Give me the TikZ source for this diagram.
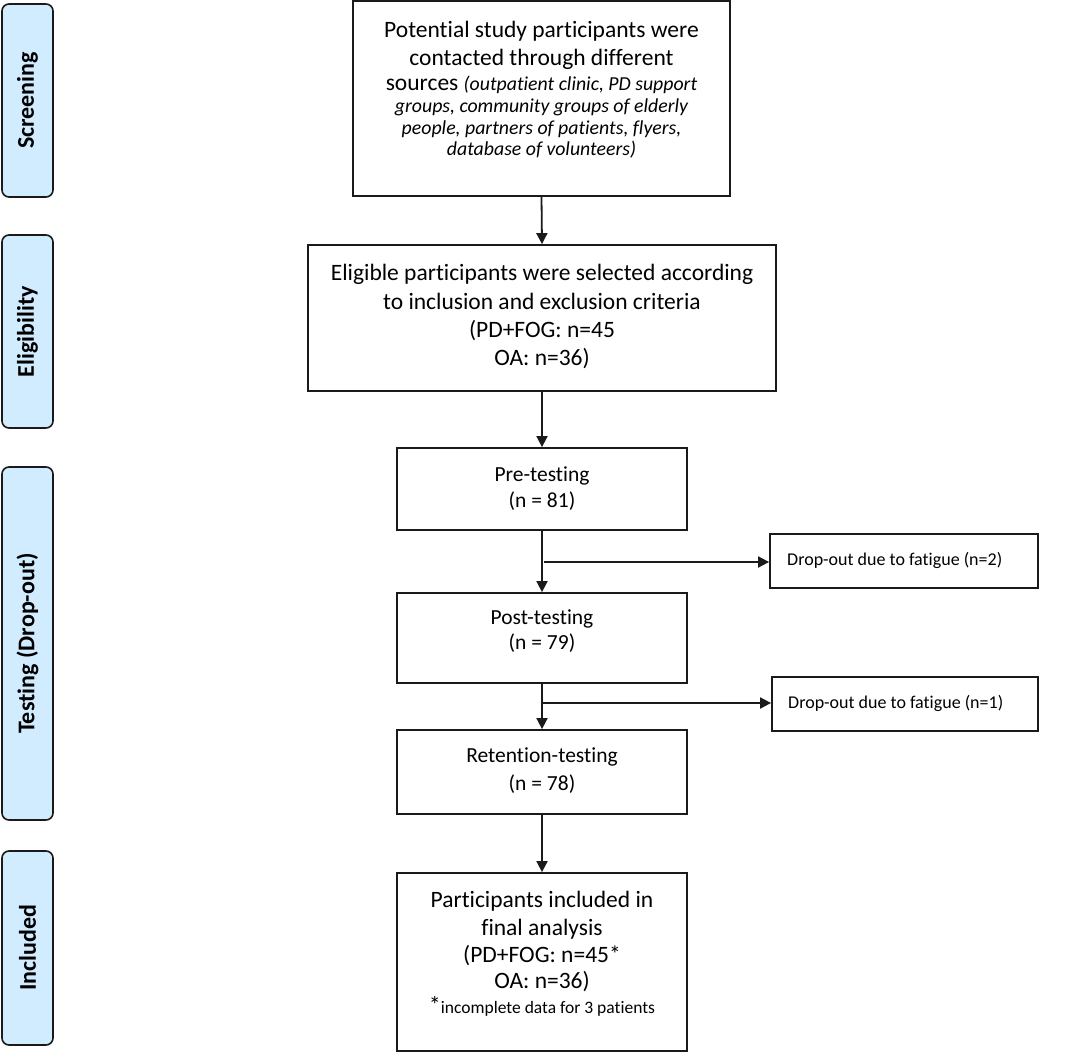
\documentclass[tikz,border=0pt]{standalone}
\usepackage{fontspec}
\setmainfont{Carlito}[Ligatures={NoCommon,NoContextual},RawFeature={-liga;-clig;-dlig;-calt}]
\usetikzlibrary{arrows.meta}
\definecolor{sidefill}{HTML}{D2ECFF}
\definecolor{edge}{HTML}{1A1A1A}
\begin{document}
\begin{tikzpicture}[x=1pt,y=-1pt,
  box/.style={draw=edge, line width=1.8pt, inner sep=0pt},
  side/.style={draw=edge, line width=1.6pt, fill=sidefill, rounded corners=7pt,
    rotate=90, inner sep=0pt, font=\fontsize{24}{28}\selectfont\bfseries},
  ln/.style={inner sep=0pt, text height=0.7em, text depth=0.22em, anchor=center},
  big/.style={ln, font=\fontsize{23.5}{28}\selectfont},
  mid/.style={ln, font=\fontsize{21.5}{26}\selectfont},
  ital/.style={ln, font=\fontsize{19.8}{24}\selectfont\itshape},
  drop/.style={inner sep=0pt, text height=0.7em, text depth=0.22em, anchor=west,
    font=\fontsize{18}{22}\selectfont},
  arr/.style={line width=1.8pt, draw=edge, -{Triangle[width=11pt,length=11pt]}}
]
\useasboundingbox (0,0) rectangle (1084,1054);

% side labels
\node[side, minimum width=193, minimum height=51] (sScreen) at (27.5,100.5) {Screening};
\node[side, minimum width=193, minimum height=51] (sElig) at (27.5,331.5) {Eligibility};
\node[side, minimum width=353, minimum height=51] (sTest) at (27.5,643.5) {Testing (Drop-out)};
\node[side, minimum width=194, minimum height=51] (sIncl) at (27.5,948) {Included};

% main boxes
\node[box, minimum width=377, minimum height=195] (top) at (541.5,98.5) {};
\node[box, minimum width=468, minimum height=146] (elig) at (542,318) {};
\node[box, minimum width=290, minimum height=82] (pre) at (542,489) {};
\node[box, minimum width=290, minimum height=90] (post) at (542,638) {};
\node[box, minimum width=290, minimum height=84] (ret) at (542,772) {};
\node[box, minimum width=290, minimum height=178] (final) at (542,962) {};
\node[box, minimum width=268, minimum height=54] (drop1) at (904,561) {};
\node[box, minimum width=266, minimum height=54] (drop2) at (905,704) {};

% texts: top box
\node[big] (t1) at (541.5,35) {Potential study participants were};
\node[big] (t2) at (541.5,63) {contacted through different};
\node[big] (t3) at (541.5,88) {sources {\fontsize{19.8}{24}\selectfont\itshape (outpatient clinic, PD support}};
\node[ital] (t4) at (541.5,110) {groups, community groups of elderly};
\node[ital] (t5) at (541.5,132) {people, partners of patients, flyers,};
\node[ital] (t6) at (541.5,153) {database of volunteers)};

% eligibility
\node[big] (e1) at (542,278) {Eligible participants were selected according};
\node[big] (e2) at (542,307) {to inclusion and exclusion criteria};
\node[big] (e3) at (542,335) {(PD+FOG: n=45};
\node[big] (e4) at (542,363) {OA: n=36)};

% testing
\node[mid] (p1) at (542,479) {Pre-testing};
\node[mid] (p2) at (542,505) {(n = 81)};
\node[mid] (q1) at (542,622) {Post-testing};
\node[mid] (q2) at (542,647) {(n = 79)};
\node[mid] (r1) at (542,760) {Retention-testing};
\node[mid] (r2) at (542,788) {(n = 78)};

% final
\node[big] (f1) at (542,905) {Participants included in};
\node[big] (f2) at (542,933) {final analysis};
\node[big] (f3) at (542,960) {(PD+FOG: n=45*};
\node[big] (f4) at (542,986) {OA: n=36)};
\node[ln, font=\fontsize{17.5}{20}\selectfont] (f5) at (542,1011) {{\fontsize{24}{28}\selectfont *}incomplete data for 3 patients};

% drop-out
\node[drop] (d1) at (787,563) {Drop-out due to fatigue (n=2)};
\node[drop] (d2) at (788,706) {Drop-out due to fatigue (n=1)};

% connectors
\draw[arr] (top.south) -- (elig.north);
\draw[arr] (elig.south) -- (pre.north);
\draw[arr] (pre.south) -- (post.north);
\draw[arr] (post.south) -- (ret.north);
\draw[arr] (ret.south) -- (final.north);
\coordinate (b1) at (544,562);
\coordinate (b2) at (542,703);
\draw[arr] (b1) -- (b1 -| drop1.west);
\draw[arr] (b2) -- (b2 -| drop2.west);
\end{tikzpicture}
\end{document}
